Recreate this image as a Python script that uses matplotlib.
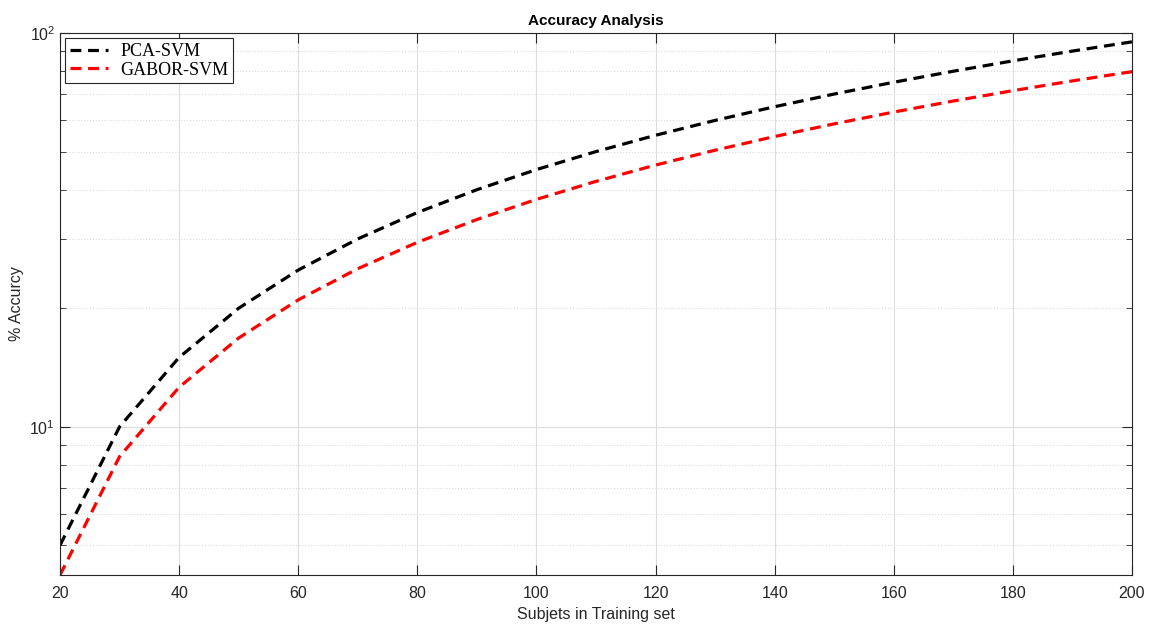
import matplotlib
matplotlib.use('Agg')
import matplotlib.pyplot as plt
from matplotlib.ticker import LogLocator, NullFormatter

# data
subjects = [20, 30, 40, 50, 60, 70, 80, 90, 100, 110, 120, 130, 140, 150, 160, 170, 180, 190, 200]
pca_svm = [5, 10, 15, 20, 25, 30, 35, 40, 45, 50, 55, 60, 65, 70, 75, 80, 85, 90, 95]
gabor_svm = [4.2, 8.4, 12.6, 16.8, 21.0, 25.2, 29.4, 33.6, 37.8, 42.0, 46.2, 50.4, 54.6, 58.8, 63.0, 67.2, 71.4, 75.6, 79.8]
x_ticks = [20, 40, 60, 80, 100, 120, 140, 160, 180, 200]

plt.rcParams['font.family'] = ['Liberation Sans', 'DejaVu Sans']

fig = plt.figure(figsize=(11.5, 6.24), dpi=100)
ax = fig.add_axes([0.0522, 0.0785, 0.9321, 0.8685])

dash = (0, (3.4, 2.1))
ax.plot(subjects, pca_svm, color='black', linestyle=dash, linewidth=2.3, label='PCA-SVM')
ax.plot(subjects, gabor_svm, color='red', linestyle=dash, linewidth=2.3, label='GABOR-SVM')

ax.set_yscale('log')
ax.set_xlim(20, 200)
ax.set_ylim(4.2, 100)
ax.set_xticks(x_ticks)
ax.yaxis.set_minor_locator(LogLocator(base=10, subs=range(2, 10)))
ax.yaxis.set_minor_formatter(NullFormatter())

ax.grid(True, which='major', color='#dcdcdc', linewidth=0.8)
ax.grid(True, which='minor', axis='y', color='#dcdcdc', linestyle=':', linewidth=0.8)
ax.set_axisbelow(True)

ax.tick_params(which='both', direction='in', top=True, right=True, colors='#262626', labelsize=11.5)
ax.tick_params(which='major', length=7)
ax.tick_params(which='minor', length=4)
ax.tick_params(axis='x', pad=8)
for s in ax.spines.values():
    s.set_color('#262626')
    s.set_linewidth(0.8)

ax.set_title('Accuracy Analysis', fontsize=11, fontweight='bold', pad=6)
ax.set_xlabel('Subjets in Training set', fontsize=11.5, color='#262626', labelpad=4)
ax.set_ylabel('% Accurcy', fontsize=11.5, color='#262626')

leg = ax.legend(loc='upper left', prop={'family': 'Liberation Serif', 'size': 13},
                fancybox=False, framealpha=1, edgecolor='#262626', handlelength=2.1,
                borderpad=0.25, labelspacing=0.1, handletextpad=0.7, borderaxespad=0.3)
leg.get_frame().set_linewidth(0.8)

fig.savefig('out.png', dpi=100)
